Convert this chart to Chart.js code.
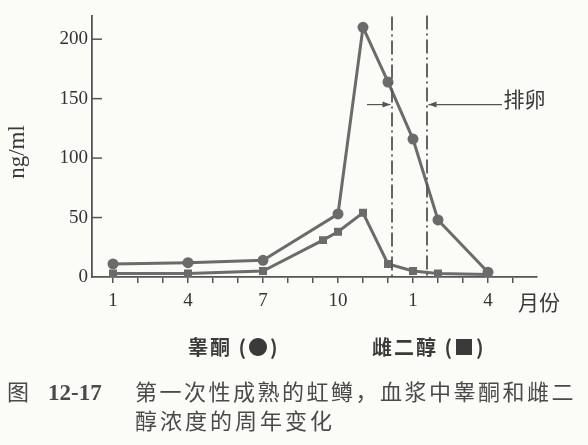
<!DOCTYPE html>
<html>
<head>
<meta charset="utf-8">
<script src="https://cdn.jsdelivr.net/npm/chart.js@4/dist/chart.umd.min.js"></script>
<style>
  body { margin: 0; background: #fbfbf8; }
  #wrap { position: relative; width: 588px; height: 445px; overflow: hidden; }
  #chart { position: absolute; left: 0; top: 0; }
  .txt { position: absolute; white-space: nowrap; color: #3a3a3a; font-family: "Noto Sans CJK SC", sans-serif; }
  .leg { font-size: 20px; font-weight: bold; top: 332px; letter-spacing: 2px; }
  .cap { font-size: 22px; color: #4a4a4a; }
  .num { font-family: "Liberation Serif", serif; font-weight: bold; font-size: 23px; }
</style>
</head>
<body>
<div id="wrap">
  <canvas id="chart" width="588" height="445"></canvas>
  <div class="txt leg" style="left:188px;">睾酮 (●)</div>
  <div class="txt leg" style="left:372px;">雌二醇 (■)</div>
  <div class="txt cap" style="left:7px; top:374px;">图</div>
  <div class="txt cap num" style="left:48px; top:380px;">12-17</div>
  <div class="txt cap" style="left:135px; top:374px; letter-spacing:2.5px;">第一次性成熟的虹鳟，血浆中睾酮和雌二</div>
  <div class="txt cap" style="left:135px; top:403px; letter-spacing:3px;">醇浓度的周年变化</div>
</div>
<script>
// month index: 0 = Jan of first year ... 12 = Jan of next year
var tickPos = [0, 3, 6, 9, 12, 15];
var tickLabels = ["1", "4", "7", "10", "1", "4"];
var yTicks = [0, 50, 100, 150, 200];

var testoX = [0, 3, 6, 9, 10, 11, 12, 13, 15];
var testoY = [11, 12, 14, 53, 210, 164, 116, 48, 4];

var estraX = [0, 3, 6, 8.4, 9, 10, 11, 12, 13, 15];
var estraY = [3, 3, 5, 31, 38, 54, 11, 5, 3, 2];

// ovulation period
var ovuX = [11.16, 12.56];
var ovuTop = [219, 220];
var arrowY = 145;

function toPoints(xs, ys) {
    return xs.map(function(v, i) { return {x: v, y: ys[i]}; });
}

var lineColor = "#6b6b6b";

var extras = {
    id: "extras",
    afterDatasetsDraw: function(chart) {
        var ctx = chart.ctx, area = chart.chartArea;
        var x = chart.scales.x, y = chart.scales.y;
        ctx.save();
        ctx.strokeStyle = "#555";
        ctx.fillStyle = "#555";
        // y ticks point into the plot
        ctx.lineWidth = 1.5;
        yTicks.forEach(function(v) {
            if (!v) return;
            var py = y.getPixelForValue(v);
            ctx.beginPath();
            ctx.moveTo(area.left, py);
            ctx.lineTo(area.left + 10, py);
            ctx.stroke();
        });
        // dashed ovulation lines
        ctx.setLineDash([14, 4, 2, 4]);
        ctx.lineWidth = 1.8;
        ovuX.forEach(function(v, i) {
            var px = x.getPixelForValue(v);
            ctx.beginPath();
            ctx.moveTo(px, y.getPixelForValue(ovuTop[i]));
            ctx.lineTo(px, y.getPixelForValue(0));
            ctx.stroke();
        });
        ctx.setLineDash([]);
        // arrows
        var ay = y.getPixelForValue(arrowY);
        function arrow(fromX, toX) {
            var a = x.getPixelForValue(fromX), b = x.getPixelForValue(toX);
            var d = b > a ? 1 : -1;
            ctx.lineWidth = 1.2;
            ctx.beginPath();
            ctx.moveTo(a, ay);
            ctx.lineTo(b, ay);
            ctx.stroke();
            ctx.beginPath();
            ctx.moveTo(b, ay);
            ctx.lineTo(b - d * 8, ay - 3);
            ctx.lineTo(b - d * 8, ay + 3);
            ctx.closePath();
            ctx.fill();
        }
        arrow(10.16, ovuX[0] - 0.06);
        arrow(15.56, ovuX[1] + 0.06);
        // labels
        ctx.fillStyle = "#3a3a3a";
        ctx.font = "21px 'Noto Sans CJK SC'";
        ctx.textBaseline = "middle";
        ctx.textAlign = "left";
        ctx.fillText("排卵", x.getPixelForValue(15.62), ay - 6);
        ctx.fillText("月份", area.right - 19, 302);
        ctx.translate(18, 152);
        ctx.rotate(-Math.PI / 2);
        ctx.textAlign = "center";
        ctx.font = "23px 'Liberation Serif'";
        ctx.fillText("ng/ml", 0, 0);
        ctx.restore();
    }
};

new Chart("chart", {
    type: "line",
    data: {
        datasets: [{
            label: "睾酮",
            data: toPoints(testoX, testoY),
            borderColor: lineColor,
            backgroundColor: lineColor,
            borderWidth: 3,
            pointStyle: "circle",
            pointRadius: 4,
            tension: 0
        }, {
            label: "雌二醇",
            data: toPoints(estraX, estraY),
            borderColor: lineColor,
            backgroundColor: lineColor,
            borderWidth: 3,
            pointStyle: "rect",
            pointRadius: 3.5,
            tension: 0
        }]
    },
    options: {
        responsive: false,
        animation: false,
        layout: { padding: { top: 11, right: 51, left: 0, bottom: 0 } },
        plugins: { legend: { display: false }, tooltip: { enabled: false } },
        scales: {
            x: {
                type: "linear",
                min: -0.84,
                max: 16.96,
                afterBuildTicks: function(scale) {
                    var t = [];
                    for (var i = 0; i <= 16; i++) t.push({value: i});
                    scale.ticks = t;
                },
                afterFit: function(scale) { scale.height = 168; },
                ticks: {
                    autoSkip: false,
                    maxRotation: 0,
                    padding: 7,
                    color: "#333",
                    font: { family: "'Liberation Serif', serif", size: 19 },
                    callback: function(v) {
                        var k = tickPos.indexOf(v);
                        return k < 0 ? "" : tickLabels[k];
                    }
                },
                grid: { drawOnChartArea: false, drawTicks: true, tickLength: 6, color: "#555", lineWidth: 1.5 },
                border: { display: true, color: "#555", width: 1.8 }
            },
            y: {
                min: 0,
                max: 220,
                afterFit: function(scale) { scale.width = 92; },
                ticks: {
                    stepSize: 50,
                    includeBounds: false,
                    padding: 4,
                    color: "#333",
                    font: { family: "'Liberation Serif', serif", size: 19 }
                },
                grid: { drawOnChartArea: false, drawTicks: false },
                border: { display: true, color: "#555", width: 1.8 }
            }
        }
    },
    plugins: [extras]
});
</script>
</body>
</html>
